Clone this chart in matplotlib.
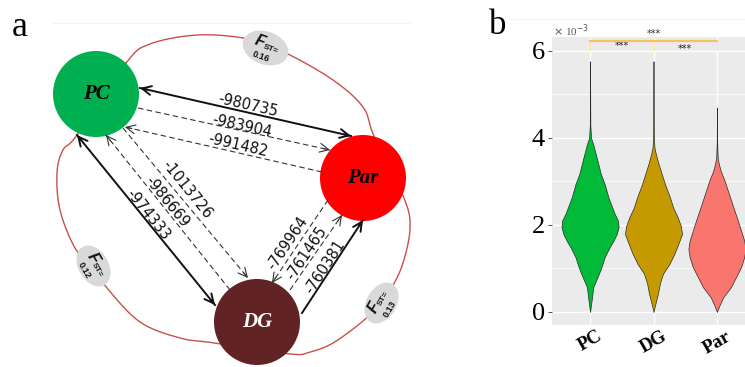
import numpy as np
import matplotlib
matplotlib.use("Agg")
import matplotlib.pyplot as plt
from matplotlib.patches import Circle, Ellipse

# ---------------- data ----------------
populations = ["PC", "DG", "Par"]
pop_colors = {"PC": "#00B050", "Par": "#FF0000", "DG": "#612323"}

# pairwise FST shown on the outer ring
fst_labels = ["0.16", "0.12", "0.13"]          # PC-Par, PC-DG, DG-Par

# log-likelihoods of the migration models
loglik_pc_par = ["-980735", "-983904", "-991482"]
loglik_pc_dg = ["-974333", "-986669", "-1013726"]
loglik_dg_par = ["-769964", "-761465", "-760381"]

# violin outlines (value x 1e-3, half width in category units)
pc_level = [0.0, 0.27, 0.57, 0.88, 1.03, 1.26, 1.49, 1.64, 1.79, 1.95, 2.10, 2.25,
            2.40, 2.63, 2.94, 3.17, 3.40, 3.63, 3.85, 4.00, 4.30, 5.76]
pc_half = [0.0, 0.025, 0.05, 0.14, 0.18, 0.23, 0.31, 0.37, 0.42, 0.45, 0.44, 0.39,
           0.35, 0.29, 0.23, 0.17, 0.13, 0.09, 0.05, 0.015, 0.004, 0.0]

dg_level = [0.0, 0.19, 0.42, 0.65, 0.88, 1.10, 1.34, 1.56, 1.79, 1.98, 2.18, 2.40,
            2.63, 2.94, 3.17, 3.40, 3.63, 3.78, 4.10, 5.76]
dg_half = [0.0, 0.03, 0.07, 0.10, 0.15, 0.25, 0.33, 0.39, 0.45, 0.43, 0.38, 0.31,
           0.26, 0.18, 0.13, 0.08, 0.037, 0.015, 0.004, 0.0]

par_level = [0.0, 0.15, 0.34, 0.57, 0.80, 1.03, 1.26, 1.45, 1.64, 1.87, 2.10, 2.40,
             2.71, 3.02, 3.24, 3.40, 3.55, 3.90, 4.70]
par_half = [0.0, 0.04, 0.10, 0.22, 0.30, 0.38, 0.43, 0.45, 0.43, 0.38, 0.33, 0.26,
            0.19, 0.12, 0.06, 0.03, 0.012, 0.003, 0.0]

violin_colors = ["#00BA38", "#C49A00", "#F8766D"]
y_ticks = [0, 2, 4, 6]

# ---------------- figure ----------------
fig = plt.figure(figsize=(7.45, 3.67), dpi=100)

# panel a drawn in pixel coordinates (y downwards)
ax = fig.add_axes([0, 0, 1, 1])
ax.set_xlim(0, 745)
ax.set_ylim(367, 0)
ax.axis("off")

ax.text(20, 27, "a", fontsize=26, family="Liberation Serif", ha="center", va="center")
ax.plot([52, 410], [23, 23], color="#F3F3F3", lw=0.8)
ax.text(498, 25, "b", fontsize=25, family="Liberation Serif", ha="center", va="center")
ax.plot([513, 745], [19, 19], color="#F5F5F5", lw=0.8)


def closed_spline(pts, n=24):
    pts = np.asarray(pts, float)
    N = len(pts)
    t = np.linspace(0, 1, n, endpoint=False)[:, None]
    segs = []
    for i in range(N):
        p0, p1, p2, p3 = pts[i - 1], pts[i], pts[(i + 1) % N], pts[(i + 2) % N]
        segs.append(0.5 * (2 * p1 + (-p0 + p2) * t + (2 * p0 - 5 * p1 + 4 * p2 - p3) * t ** 2
                           + (-p0 + 3 * p1 - 3 * p2 + p3) * t ** 3))
    out = np.vstack(segs)
    return np.vstack([out, out[:1]])


ring = closed_spline([(126, 63), (150, 44), (197, 35), (243, 38), (266, 47), (288, 54),
                      (333, 80), (363, 107), (374, 136), (404, 198), (410, 228),
                      (403, 263), (392, 287), (380, 303), (363, 321), (333, 343),
                      (310, 352), (290, 354), (215, 343), (180, 338), (140, 322),
                      (107, 288), (93, 267), (75, 248), (60, 210), (57, 173),
                      (63, 150), (77, 135)])
ax.plot(ring[:, 0], ring[:, 1], color="#C8504A", lw=1.0, zorder=1)


def fst_badge(cx, cy, w, h, theta, value):
    ax.add_patch(Ellipse((cx, cy), w, h, angle=theta, facecolor="#D9D9D9",
                         edgecolor="none", zorder=2))
    c, s = np.cos(np.radians(theta)), np.sin(np.radians(theta))

    def place(lx, ly):
        return cx + lx * c - ly * s, cy + lx * s + ly * c

    x, y = place(-7, -4)
    ax.text(x, y, "F", fontsize=11.5, fontweight="bold", fontstyle="italic",
            family="Liberation Sans", rotation=-theta, ha="center", va="center",
            rotation_mode="anchor", zorder=3, color="#111111")
    x, y = place(5, -1)
    ax.text(x, y, "ST=", fontsize=6, fontweight="bold", family="Liberation Sans",
            rotation=-theta, ha="center", va="center", rotation_mode="anchor",
            zorder=3, color="#111111")
    x, y = place(-1, 10)
    ax.text(x, y, value, fontsize=6.5, fontweight="bold", family="Liberation Sans",
            rotation=-theta, ha="center", va="center", rotation_mode="anchor",
            zorder=3, color="#111111")


fst_badge(265.5, 48, 47, 33, 20, fst_labels[0])
fst_badge(93.5, 266, 44, 30, 60, fst_labels[1])
fst_badge(381.5, 303, 44, 30, -60, fst_labels[2])

# nodes
node_xy = {"PC": (96, 94), "Par": (363, 178), "DG": (257, 322)}
for name in ["PC", "Par", "DG"]:
    x, y = node_xy[name]
    ax.add_patch(Circle((x, y), 43, facecolor=pop_colors[name], edgecolor="none", zorder=4))
    ax.text(x, y, name, fontsize=15, fontweight="bold", fontstyle="italic",
            family="Liberation Serif", ha="center", va="center", zorder=5,
            color="white" if name == "DG" else "black")


def head(p_from, p_to, lw, color):
    p_from = np.asarray(p_from, float)
    p_to = np.asarray(p_to, float)
    d = p_to - p_from
    d /= np.hypot(*d)
    ax.annotate("", xy=p_to, xytext=p_to - 7 * d,
                arrowprops=dict(arrowstyle="->,head_length=0.65,head_width=0.32",
                                lw=lw, color=color, shrinkA=0, shrinkB=0), zorder=6)


def edge(p0, p1, dashed, both, label, lpos, rot):
    color = "#111111" if not dashed else "#333333"
    lw = 1.4 if not dashed else 0.8
    ax.plot([p0[0], p1[0]], [p0[1], p1[1]], color=color, lw=lw,
            ls=(0, (5, 3)) if dashed else "-", zorder=6)
    head(p0, p1, lw, color)
    if both:
        head(p1, p0, lw, color)
    ax.text(lpos[0], lpos[1], label, fontsize=10.5, family="DejaVu Sans", rotation=rot,
            ha="center", va="center", rotation_mode="anchor", color="#111111", zorder=7)


edge((140, 88), (351, 136), False, True, loglik_pc_par[0], (248, 105), -12.8)
edge((138, 108), (330, 150), True, False, loglik_pc_par[1], (242, 126), -12.5)
edge((322, 172), (125, 127), True, False, loglik_pc_par[2], (238, 145), -12.8)

edge((77, 135), (215, 305), False, True, loglik_pc_dg[0], (148, 215), -51)
edge((230, 290), (106, 135), True, False, loglik_pc_dg[1], (167, 202), -51)
edge((123, 128), (248, 278), True, False, loglik_pc_dg[2], (187, 190), -51)

edge((328, 200), (272, 283), True, False, loglik_dg_par[0], (288, 243), 56)
edge((290, 290), (342, 215), True, False, loglik_dg_par[1], (307, 253), 56)
edge((302, 313), (363, 220), False, False, loglik_dg_par[2], (325, 267), 57)

# ---------------- panel b ----------------
bx = fig.add_axes([552 / 745, 1 - 325 / 367, (755 - 552) / 745, (325 - 37) / 367])
bx.set_facecolor("#EBEBEB")
bx.set_xlim(0.4, 3.6)
bx.set_ylim(-0.3, 6.32)
for sp in bx.spines.values():
    sp.set_visible(False)
bx.set_yticks(y_ticks)
bx.set_yticks([1, 3, 5], minor=True)
bx.set_xticks([1, 2, 3])
bx.grid(True, which="major", color="white", lw=1.0)
bx.grid(True, which="minor", axis="y", color="white", lw=0.5)
bx.set_axisbelow(True)
bx.tick_params(axis="y", which="major", length=3, width=0.6, color="#333333", pad=2,
               labelsize=19)
bx.tick_params(axis="y", which="minor", length=0)
bx.tick_params(axis="x", length=0, pad=2)
bx.set_yticklabels([str(v) for v in y_ticks], family="Liberation Serif")
bx.set_xticklabels(populations, rotation=30, fontweight="bold", family="Liberation Serif",
                   fontsize=13.5, ha="center", va="top")

profiles = [(pc_level, pc_half), (dg_level, dg_half), (par_level, par_half)]
for i, ((lev, half), col) in enumerate(zip(profiles, violin_colors)):
    lev = np.asarray(lev)
    half = np.asarray(half)
    bx.fill_betweenx(lev, i + 1 - half, i + 1 + half, facecolor=col,
                     edgecolor="#2A2A2A", lw=0.5, zorder=3)

# significance marks
sig_color = "#F2C45A"
bx.plot([1, 3], [6.23, 6.23], color=sig_color, lw=1.6, clip_on=False, zorder=4)
for xv in [1, 2, 3]:
    bx.plot([xv, xv], [6.2, 6.02], color=sig_color, lw=0.6, alpha=0.6, clip_on=False, zorder=4)
bx.text(2, 6.27, "***", fontsize=7, ha="center", va="bottom", color="#333333", clip_on=False)
bx.text(1.5, 6.0, "***", fontsize=7, ha="center", va="bottom", color="#222222")
bx.text(2.5, 5.93, "***", fontsize=7, ha="center", va="bottom", color="#222222")

fig.text(553 / 745, 1 - 31 / 367, r"$\times$ 10$^{-3}$", fontsize=8, color="#555555",
         family="Liberation Serif", ha="left", va="center")

fig.savefig("out.png", dpi=100)
